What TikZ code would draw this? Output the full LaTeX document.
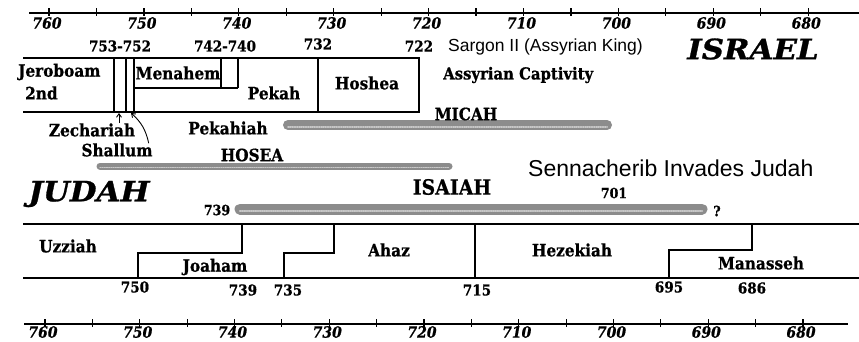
\documentclass[tikz,border=0pt]{standalone}
\usepackage{fontspec}
\setmainfont{DejaVu Serif}
\newfontfamily\sansf{Liberation Sans}
\newfontfamily\labf[FakeStretch=0.9,FakeBold=0.8]{DejaVu Serif}
\newfontfamily\widef[FakeStretch=1.1,FakeBold=1]{DejaVu Serif}
\usetikzlibrary{arrows.meta}
\tikzset{
  axisline/.style={line width=2pt},
  tickline/.style={line width=1.2pt},
  boxline/.style={line width=1.4pt},
  ticklab/.style={font=\labf\bfseries\itshape\fontsize{15.5}{15.5}\selectfont, inner sep=0pt},
  lab/.style={font=\labf\bfseries\fontsize{17}{17}\selectfont, inner sep=0pt},
  num/.style={font=\labf\bfseries\fontsize{15}{15}\selectfont, inner sep=0pt},
  smallnum/.style={font=\labf\bfseries\fontsize{14}{14}\selectfont, inner sep=0pt},
  biglab/.style={font=\widef\bfseries\itshape\fontsize{28}{28}\selectfont, inner sep=0pt},
  sanslab/.style={font=\sansf\fontsize{17.5}{17.5}\selectfont, inner sep=0pt},
  prophetbar/.style={line cap=round, color={rgb,255:red,140;green,140;blue,140}},
  bardots/.style={line cap=round, color={rgb,255:red,200;green,200;blue,200}, dash pattern=on 0.8pt off 1.4pt},
  pointer/.style={line width=0.9pt, -{Straight Barb[length=3.5pt,width=5pt]}}
}
\begin{document}
\begin{tikzpicture}[x=1pt,y=-1pt]
\useasboundingbox[fill=white] (0,0) rectangle (859,341);
% ---------- top axis
\draw[axisline] (29,13) -- (859,13);
\foreach \yr in {760,755,...,680} {\draw[tickline] ({49+(760-\yr)*9.49},8) -- ++(0,8);}
\foreach \yr in {760,750,...,680} {\node[ticklab] (top\yr) at ({47+(760-\yr)*9.49},23) {\yr};}
% ---------- bottom axis
\draw[axisline] (24,324) -- (848,324);
\foreach \yr in {760,755,...,680} {\draw[tickline] ({45+(760-\yr)*9.475},319) -- ++(0,8);}
\foreach \yr in {760,750,...,680} {\node[ticklab] (bot\yr) at ({43+(760-\yr)*9.475},332) {\yr};}
% ---------- Israel box
\draw[boxline] (23,58) -- (419,58) -- (419,112) -- (23,112);
\draw[boxline] (114,58) -- (114,112);
\draw[boxline] (126,58) -- (126,112);
\draw[boxline] (134,58) -- (134,112);
\draw[boxline] (134,88) -- (238,88);
\draw[boxline] (221,58) -- (221,88);
\draw[boxline] (238,58) -- (238,88);
\draw[boxline] (318,58) -- (318,112);
\node[num] (d753) at (120,46) {753-752};
\node[num] (d742) at (225,46) {742-740};
\node[num] (d732) at (318,44) {732};
\node[num] (d722) at (419,46) {722};
\node[lab, anchor=west] (jer) at (18,72) {Jeroboam};
\node[lab, anchor=west] (jer2) at (25,93) {2nd};
\node[lab] (men) at (178,73) {Menahem};
\node[lab] (pek) at (274,93) {Pekah};
\node[lab] (hos) at (367,83) {Hoshea};
\node[lab] (zec) at (92,130) {Zechariah};
\node[lab] (sha) at (117,150) {Shallum};
\node[lab] (pkh) at (228,128) {Pekahiah};
\coordinate (zectip) at (119,113);
\coordinate (shatip) at (131,113);
\draw[pointer] (zec.north -| zectip) -- (zectip);
\draw[pointer] ([xshift=-4pt]sha.north east) to[bend right=18] (shatip);
\node[sanslab, anchor=west] (sarg) at (448,47) {Sargon II (Assyrian King)};
\node[lab, anchor=west, font=\labf\bfseries\fontsize{16.5}{16.5}\selectfont] (capt) at (443,75) {Assyrian Captivity};
\node[biglab] (isr) at (753,49) {ISRAEL};
% ---------- prophets
\draw[prophetbar, line width=10pt] (288,125) -- (607,125);
\draw[bardots, line width=2pt] (288,127) -- (607,127);
\node[lab] (mic) at (466,114) {MICAH};
\draw[prophetbar, line width=7pt] (100,166) -- (449,166);
\draw[bardots, line width=1.5pt] (100,167.5) -- (449,167.5);
\node[lab] (hosea) at (252,155) {HOSEA};
\node[sanslab, anchor=west, font=\sansf\fontsize{23}{23}\selectfont] (senn) at (528,168) {Sennacherib Invades Judah};
\node[biglab] (jud) at (89,194) {JUDAH};
\draw[prophetbar, line width=11pt] (240,209) -- (702,209);
\draw[bardots, line width=2.5pt] (240,211) -- (702,211);
\node[lab, font=\labf\bfseries\fontsize{21}{21}\selectfont] (isa) at (452,187) {ISAIAH};
\node[smallnum] (i739) at (217,210) {739};
\node[smallnum] (i701) at (614,193) {701};
\node[smallnum] (iq) at (717,211) {?};
% ---------- Judah box
\draw[boxline] (23,224) -- (859,224);
\draw[boxline] (23,278) -- (859,278);
\draw[boxline] (242,224) |- (138,253) -- (138,278);
\draw[boxline] (334,224) |- (284,253) -- (284,278);
\draw[boxline] (475,224) -- (475,278);
\draw[boxline] (752,224) |- (669,250) -- (669,278);
\node[lab] (uzz) at (68,246) {Uzziah};
\node[lab] (joa) at (215,267) {Joaham};
\node[lab] (aha) at (389,250) {Ahaz};
\node[lab] (hez) at (572,250) {Hezekiah};
\node[lab] (man) at (761,263) {Manasseh};
\node[num] (j750) at (135,287) {750};
\node[num] (j739) at (243,290) {739};
\node[num] (j735) at (288,290) {735};
\node[num] (j715) at (477,290) {715};
\node[num] (j695) at (669,287) {695};
\node[num] (j686) at (752,288) {686};
\end{tikzpicture}
\end{document}
